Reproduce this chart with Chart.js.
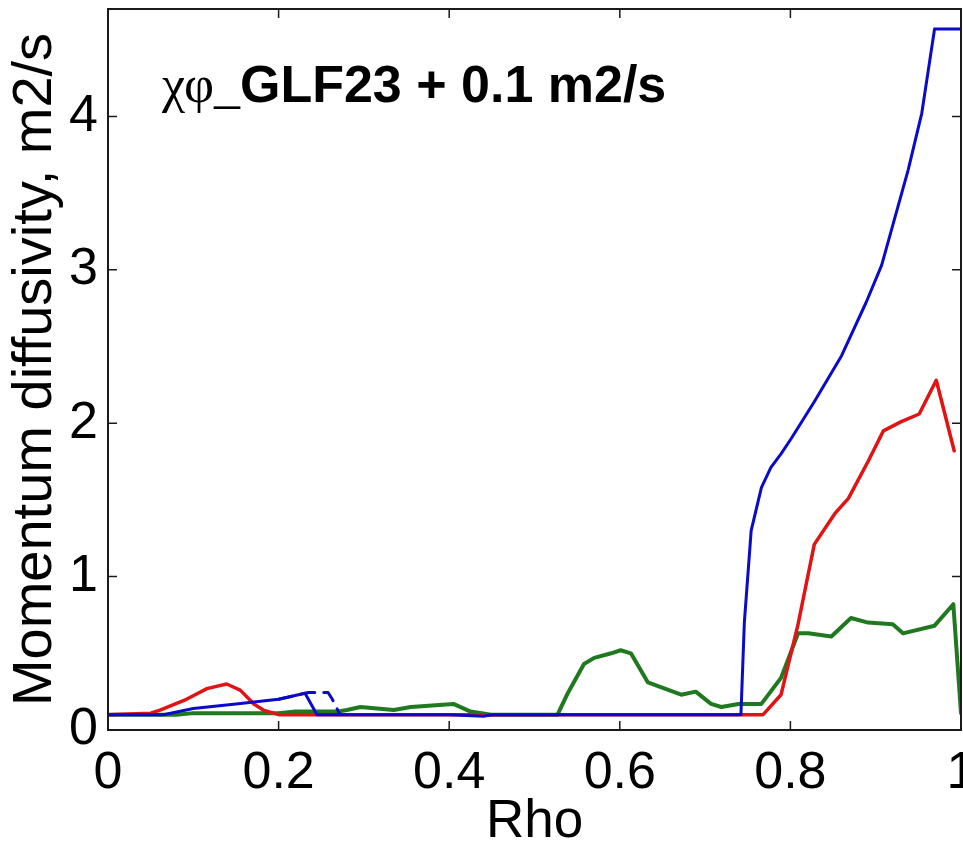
<!DOCTYPE html>
<html lang="en">
<head>
  <meta charset="UTF-8">
  <title>Momentum diffusivity vs Rho</title>
  <script src="https://cdn.jsdelivr.net/npm/chart.js"></script>
  <style>
    html, body { margin: 0; padding: 0; background: #fff; }
    canvas { display: block; }
  </style>
</head>
<body>
  <canvas id="chiChart" width="963" height="849"></canvas>

  <script>
    // values
    const xTicks = [0, 0.2, 0.4, 0.6, 0.8, 1];
    const yTicks = [0, 1, 2, 3, 4];

    const blueRho = [0, 0.065, 0.1, 0.15, 0.2, 0.231, 0.245, 0.3, 0.4, 0.44, 0.45, 0.742, 0.746, 0.754, 0.766, 0.777, 0.789, 0.801, 0.828, 0.86, 0.889, 0.907, 0.938, 0.954, 0.969, 1.0];
    const blueChi = [0.1, 0.1, 0.14, 0.17, 0.2, 0.24, 0.1, 0.1, 0.1, 0.09, 0.1, 0.1, 0.7, 1.3, 1.58, 1.71, 1.8, 1.9, 2.14, 2.44, 2.79, 3.03, 3.65, 4.02, 4.57, 4.57];

    const dashRho = [0.2, 0.235, 0.258, 0.263, 0.272];
    const dashChi = [0.2, 0.245, 0.245, 0.2, 0.1];

    const redRho = [0, 0.05, 0.061, 0.092, 0.116, 0.139, 0.155, 0.171, 0.182, 0.2, 0.25, 0.768, 0.789, 0.809, 0.828, 0.852, 0.868, 0.891, 0.909, 0.93, 0.951, 0.971, 0.992];
    const redChi = [0.1, 0.11, 0.13, 0.2, 0.27, 0.3, 0.26, 0.17, 0.13, 0.1, 0.1, 0.1, 0.23, 0.69, 1.21, 1.41, 1.51, 1.75, 1.95, 2.01, 2.06, 2.28, 1.82];

    const greenRho = [0, 0.08, 0.1, 0.2, 0.22, 0.27, 0.28, 0.296, 0.335, 0.355, 0.38, 0.405, 0.425, 0.449, 0.5, 0.527, 0.539, 0.558, 0.57, 0.59, 0.601, 0.613, 0.633, 0.648, 0.672, 0.689, 0.707, 0.719, 0.739, 0.766, 0.789, 0.809, 0.821, 0.848, 0.871, 0.891, 0.92, 0.932, 0.969, 0.991, 1.0];
    const greenChi = [0.1, 0.1, 0.11, 0.11, 0.12, 0.12, 0.13, 0.15, 0.13, 0.15, 0.16, 0.17, 0.12, 0.1, 0.1, 0.1, 0.24, 0.43, 0.47, 0.5, 0.52, 0.5, 0.31, 0.28, 0.23, 0.25, 0.17, 0.15, 0.17, 0.17, 0.34, 0.63, 0.63, 0.61, 0.73, 0.7, 0.69, 0.63, 0.68, 0.82, 0.11];

    const toPoints = (xs, ys) => xs.map((x, i) => ({ x: x, y: ys[i] }));

    // no extra room for half labels at the ends of the axes
    const noPad = scale => {
      scale.paddingTop = 0;
      scale.paddingBottom = 0;
      scale.paddingLeft = 0;
      scale.paddingRight = 0;
    };

    // box round the plot with MATLAB style inward ticks
    const boxPlugin = {
      id: 'box',
      afterDatasetsDraw(chart) {
        const { ctx, chartArea: a, scales } = chart;
        const len = 9;
        ctx.save();
        ctx.strokeStyle = '#1a1a1a';
        ctx.lineWidth = 1.5;
        ctx.beginPath();
        xTicks.forEach(v => {
          const px = scales.x.getPixelForValue(v);
          ctx.moveTo(px, a.bottom); ctx.lineTo(px, a.bottom - len);
          ctx.moveTo(px, a.top); ctx.lineTo(px, a.top + len);
        });
        yTicks.forEach(v => {
          const py = scales.y.getPixelForValue(v);
          ctx.moveTo(a.left, py); ctx.lineTo(a.left + len, py);
          ctx.moveTo(a.right, py); ctx.lineTo(a.right - len, py);
        });
        ctx.stroke();
        ctx.lineWidth = 2;
        ctx.strokeRect(a.left, a.top, a.right - a.left, a.bottom - a.top);
        ctx.restore();
      }
    };

    // the label written inside the plot
    const notePlugin = {
      id: 'note',
      afterDraw(chart) {
        const { ctx, chartArea: a } = chart;
        const x0 = a.left + 54;
        const y0 = a.top + 93;
        ctx.save();
        ctx.fillStyle = '#000';
        ctx.textBaseline = 'alphabetic';
        ctx.font = '52px "Liberation Serif", "Times New Roman", serif';
        const pre = 'χφ_';
        ctx.fillText(pre, x0, y0);
        const w = ctx.measureText(pre).width;
        ctx.font = 'bold 52px "Liberation Sans", Arial, sans-serif';
        ctx.fillText('GLF23 + 0.1 m2/s', x0 + w, y0);
        ctx.restore();
      }
    };

    const ctx = document.getElementById('chiChart').getContext('2d');
    new Chart(ctx, {
      type: 'line',
      data: {
        datasets: [
          {
            label: 'blue',
            data: toPoints(blueRho, blueChi),
            borderColor: '#0a0ac8',
            borderWidth: 3
          },
          {
            label: 'blue dashed',
            data: toPoints(dashRho, dashChi),
            borderColor: '#0a0ac8',
            borderWidth: 3,
            borderDash: [14, 9]
          },
          {
            label: 'red',
            data: toPoints(redRho, redChi),
            borderColor: '#e01414',
            borderWidth: 3.5
          },
          {
            label: 'green',
            data: toPoints(greenRho, greenChi),
            borderColor: '#1f7a1f',
            borderWidth: 4
          }
        ]
      },
      options: {
        responsive: false,
        animation: false,
        devicePixelRatio: 1,
        layout: { autoPadding: false, padding: { top: 9, right: 2, left: 0, bottom: 0 } },
        elements: {
          point: { radius: 0 },
          line: { tension: 0, fill: false, borderJoinStyle: 'round', borderCapStyle: 'round' }
        },
        plugins: {
          legend: { display: false },
          tooltip: { enabled: false }
        },
        scales: {
          x: {
            type: 'linear',
            min: 0,
            max: 1,
            afterBuildTicks: scale => { scale.ticks = xTicks.map(v => ({ value: v })); },
            afterFit: scale => { scale.height = 119; noPad(scale); },
            grid: { display: false, drawTicks: false },
            border: { display: false },
            ticks: {
              padding: 12,
              color: '#000',
              maxRotation: 0,
              font: { family: '"Liberation Sans", Arial, sans-serif', size: 52 },
              callback: v => String(parseFloat(Number(v).toFixed(1)))
            },
            title: {
              display: true,
              text: 'Rho',
              color: '#000',
              padding: { top: 0, bottom: 0 },
              font: { family: '"Liberation Sans", Arial, sans-serif', size: 53, lineHeight: 1.0 }
            }
          },
          y: {
            type: 'linear',
            min: 0,
            max: 4.7,
            afterBuildTicks: scale => { scale.ticks = yTicks.map(v => ({ value: v })); },
            afterFit: scale => { scale.width = 108; noPad(scale); },
            grid: { display: false, drawTicks: false },
            border: { display: false },
            ticks: {
              padding: 10,
              color: '#000',
              font: { family: '"Liberation Sans", Arial, sans-serif', size: 52 }
            },
            title: {
              display: true,
              text: 'Momentum diffusivity, m2/s',
              color: '#000',
              padding: { top: 2, bottom: 0 },
              font: { family: '"Liberation Sans", Arial, sans-serif', size: 56, lineHeight: 1.2 }
            }
          }
        }
      },
      plugins: [boxPlugin, notePlugin]
    });
  </script>
</body>
</html>
